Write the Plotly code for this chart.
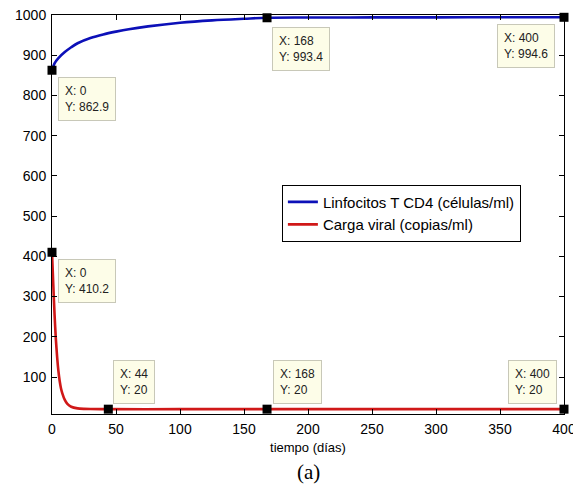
import plotly.graph_objects as go

# Data
t_cd4 = [0, 2, 5, 10, 15, 20, 30, 40, 50, 60, 75, 100, 125, 150, 168, 200, 250, 300, 350, 400]
cd4 = [862.9, 880, 893, 908, 920, 930, 943, 952, 959, 965, 972, 981, 987, 991, 993.4, 994.0, 994.3, 994.5, 994.6, 994.6]

t_vir = [0, 1, 2, 3, 4, 5, 6, 7, 8, 10, 12, 15, 20, 25, 30, 44, 100, 168, 250, 400]
vir = [410.2, 330, 255, 195, 150, 115, 90, 72, 60, 43, 33, 26, 22, 20.8, 20.3, 20, 20, 20, 20, 20]

tip_x = [0, 168, 400, 0, 44, 168, 400]
tip_y = [862.9, 993.4, 994.6, 410.2, 20, 20, 20]
tip_labels = ["862.9", "993.4", "994.6", "410.2", "20", "20", "20"]
# placement of each data tip box (style): (xanchor, yanchor, xshift, yshift)
tip_place = [("left", "top", 6, -7), ("left", "top", 5, -9), ("right", "top", -9, -7),
             ("left", "top", 6, -7), ("left", "bottom", 5, 5), ("left", "bottom", 6, 5),
             ("right", "bottom", -7, 5)]

x_ticks = [0, 50, 100, 150, 200, 250, 300, 350, 400]
y_ticks = [100, 200, 300, 400, 500, 600, 700, 800, 900, 1000]

fig = go.Figure()
fig.add_trace(go.Scatter(x=t_cd4, y=cd4, mode="lines", name="Linfocitos T CD4 (células/ml)",
                         line=dict(color="#0c10b8", width=2.6, shape="spline")))
fig.add_trace(go.Scatter(x=t_vir, y=vir, mode="lines", name="Carga viral (copias/ml)",
                         line=dict(color="#d01818", width=2.6, shape="spline", smoothing=0.6)))
fig.add_trace(go.Scatter(x=tip_x, y=tip_y, mode="markers", showlegend=False,
                         marker=dict(symbol="square", size=9, color="black"),
                         cliponaxis=False))

for x, y, lab, (xa, ya, xs, ys) in zip(tip_x, tip_y, tip_labels, tip_place):
    fig.add_annotation(x=x, y=y, xref="x", yref="y", text=f"X: {x}<br>Y: {lab}",
                       showarrow=False, xanchor=xa, yanchor=ya, xshift=xs, yshift=ys,
                       align="left", bgcolor="#fdfde8", bordercolor="#c8c8b8", borderwidth=1,
                       borderpad=6, font=dict(family="Liberation Sans, Arial", size=12, color="#222"))

fig.add_annotation(text="(a)", xref="paper", yref="paper", x=0.5, y=-0.145, yanchor="middle",
                   showarrow=False, font=dict(family="Liberation Serif, Times New Roman", size=21, color="black"))

axis_common = dict(showline=True, linecolor="black", linewidth=1, mirror="ticks", ticks="inside",
                   ticklen=5, tickcolor="black", showgrid=False, zeroline=False,
                   tickfont=dict(family="Liberation Sans, Arial", size=14, color="black"))

fig.update_layout(
    width=573, height=478,
    margin=dict(l=44, r=17, t=7, b=72, autoexpand=False),
    paper_bgcolor="white", plot_bgcolor="white",
    xaxis=dict(range=[0, 400], tickvals=x_ticks, ticktext=[str(v) for v in x_ticks],
               ticklabelstandoff=2,
               title=dict(text="tiempo (días)", font=dict(family="Liberation Sans, Arial", size=13, color="black"), standoff=7),
               **axis_common),
    yaxis=dict(range=[8, 1000.3], tickvals=y_ticks, ticktext=[str(v) for v in y_ticks],
               ticklabelstandoff=2, ticklabeloverflow="allow", **axis_common),
    legend=dict(x=0.449, y=0.575, xanchor="left", yanchor="top", bgcolor="white",
                bordercolor="black", borderwidth=1, tracegroupgap=0,
                font=dict(family="Liberation Sans, Arial", size=15, color="black")),
    showlegend=True,
)

fig.write_html("out.html")
